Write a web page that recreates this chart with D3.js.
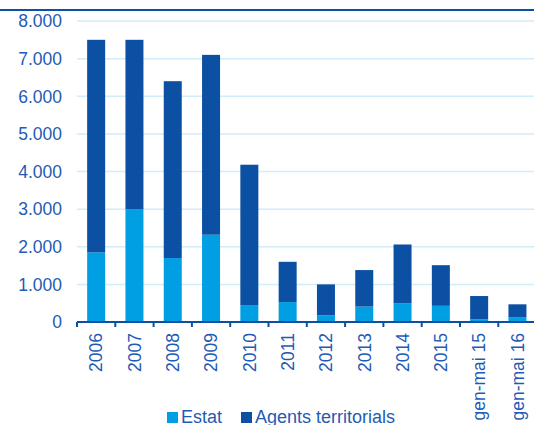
<!DOCTYPE html>
<html><head><meta charset="utf-8">
<script src="https://cdn.jsdelivr.net/npm/d3@7"></script>
<style>body{margin:0;background:#fff;}svg{display:block;font-family:"Liberation Sans",Arial,sans-serif;}</style>
</head><body>
<svg id="c" width="534" height="425"></svg>
<script>
const categories = ["2006","2007","2008","2009","2010","2011","2012","2013","2014","2015","gen-mai 15","gen-mai 16"];
const estat = [1850,3000,1700,2320,450,530,180,410,500,430,70,130];
const agentsTerritorials = [5650,4500,4700,4780,3730,1070,820,970,1560,1080,620,340];
const yTicks = [0,1000,2000,3000,4000,5000,6000,7000,8000];
const seriesNames = ["Estat","Agents territorials"];
const colors = ["#009fe3","#0b50a2"];
const textColor = "#1f5bb4";

const svg = d3.select("#c");
const x0 = 77, x1 = 536.6;
const x = d3.scaleBand().domain(categories).range([x0, x1]).paddingInner(0.53).paddingOuter(0.265);
const y = d3.scaleLinear().domain([0, 8000]).range([322, 21]);
const fmt = v => v === 0 ? "0" : d3.format(",")(v).replace(/,/g, ".");

// top rule
svg.append("line").attr("x1",0).attr("x2",534).attr("y1",10).attr("y2",10)
  .attr("stroke","#0b50a2").attr("stroke-width",2);

// gridlines
svg.append("g").selectAll("line").data(yTicks.filter(d=>d>0)).join("line")
  .attr("x1",x0).attr("x2",534).attr("y1",d=>y(d)).attr("y2",d=>y(d))
  .attr("stroke","#d3ecf9").attr("stroke-width",1.5);

// y tick labels
svg.append("g").selectAll("text").data(yTicks).join("text")
  .attr("x",62).attr("y",d=>y(d)).attr("dy","0.36em").attr("text-anchor","end")
  .attr("font-size",17.5).attr("fill",textColor).text(fmt);

// stacked bars
const data = categories.map((c,i)=>({cat:c, Estat:estat[i], "Agents territorials":agentsTerritorials[i]}));
const stack = d3.stack().keys(seriesNames)(data);
svg.append("g").selectAll("g").data(stack).join("g").attr("fill",(d,i)=>colors[i])
  .selectAll("rect").data(d=>d).join("rect")
  .attr("x",d=>x(d.data.cat)).attr("width",x.bandwidth())
  .attr("y",d=>y(d[1])).attr("height",d=>y(d[0])-y(d[1]));

// x axis line & ticks
const step = x.step();
svg.append("line").attr("x1",x0).attr("x2",534).attr("y1",322).attr("y2",322)
  .attr("stroke","#0b50a2").attr("stroke-width",2);
svg.append("g").selectAll("line").data(d3.range(categories.length+1)).join("line")
  .attr("x1",i=>x0+i*step).attr("x2",i=>x0+i*step).attr("y1",322).attr("y2",327)
  .attr("stroke","#0b50a2").attr("stroke-width",2);

// x labels
svg.append("g").selectAll("text").data(categories).join("text")
  .attr("transform",d=>`translate(${x(d)+x.bandwidth()/2},333) rotate(-90)`)
  .attr("text-anchor","end").attr("dy","0.36em")
  .attr("font-size",17.5).attr("fill",textColor).text(d=>d);

// legend
const leg = [{name:"Estat",sx:167,tx:181},{name:"Agents territorials",sx:241,tx:255}];
leg.forEach((l,i)=>{
  svg.append("rect").attr("x",l.sx).attr("y",412).attr("width",11).attr("height",11).attr("fill",colors[i]);
  svg.append("text").attr("x",l.tx).attr("y",422.5).attr("font-size",18).attr("fill",textColor).text(l.name);
});
</script>
</body></html>
